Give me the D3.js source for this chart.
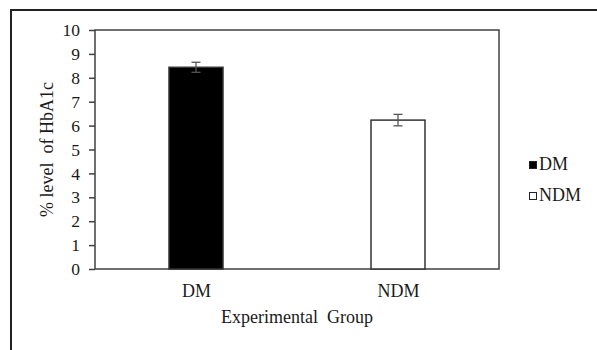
<!DOCTYPE html>
<html>
<head>
<meta charset="utf-8">
<script src="https://cdn.jsdelivr.net/npm/d3@7"></script>
<style>
  body { margin: 0; background: #fff; }
  text { font-family: "Liberation Serif", "Times New Roman", serif; fill: #1a1a1a; }
</style>
</head>
<body>
<div id="chart"></div>
<script>
// data
var groups = ["DM", "NDM"];
var means = [8.44, 6.23];
var errors = [0.21, 0.24];
var yTicks = [0, 1, 2, 3, 4, 5, 6, 7, 8, 9, 10];
var fills = ["#000000", "#ffffff"];

var W = 597, H = 350;
var m = {left: 95, right: 98, top: 30, bottom: 81};
var w = W - m.left - m.right;
var h = H - m.top - m.bottom;

var svg = d3.select("#chart")
  .append("svg")
  .attr("width", W)
  .attr("height", H)
  .attr("font-family", "Liberation Serif");

// outer frame (cut off on right and bottom)
svg.append("rect")
  .attr("x", 11).attr("y", 10)
  .attr("width", 700).attr("height", 500)
  .attr("fill", "none")
  .attr("stroke", "#222")
  .attr("stroke-width", 2);

var g = svg.append("g")
  .attr("transform", "translate(" + m.left + "," + m.top + ")");

var x = d3.scalePoint().domain(groups).range([0, w]).padding(0.5);
var y = d3.scaleLinear().domain([0, 10]).range([h, 0]);
var barW = 54;

// plot box
g.append("rect")
  .attr("width", w).attr("height", h)
  .attr("fill", "none")
  .attr("stroke", "#404040")
  .attr("stroke-width", 1.5);

// y axis
var yAxis = g.append("g")
  .call(d3.axisLeft(y).tickValues(yTicks).tickSize(6).tickPadding(9).tickFormat(d3.format("d")))
  .attr("font-family", null)
  .attr("font-size", null);
yAxis.select(".domain").remove();
yAxis.selectAll("line").attr("stroke", "#404040").attr("stroke-width", 1.5);
yAxis.selectAll("text")
  .style("font-size", "17.5px")
  .attr("fill", "#1a1a1a");

// x axis labels
var xAxis = g.append("g")
  .attr("transform", "translate(0," + h + ")")
  .call(d3.axisBottom(x).tickSize(0).tickPadding(15))
  .attr("font-family", null)
  .attr("font-size", null);
xAxis.select(".domain").remove();
xAxis.selectAll("text")
  .style("font-size", "18px")
  .attr("fill", "#1a1a1a");

// bars
g.selectAll(".bar")
  .data(groups)
  .enter()
  .append("rect")
  .attr("class", "bar")
  .attr("x", function(d) { return x(d) - barW / 2; })
  .attr("y", function(d, i) { return y(means[i]); })
  .attr("width", barW)
  .attr("height", function(d, i) { return h - y(means[i]); })
  .attr("fill", function(d, i) { return fills[i]; })
  .attr("stroke", "#333")
  .attr("stroke-width", 1.5);

// error bars
var eb = g.selectAll(".err")
  .data(groups)
  .enter()
  .append("g")
  .attr("class", "err")
  .attr("stroke", "#555")
  .attr("stroke-width", 1.3);
eb.append("line")
  .attr("x1", function(d) { return x(d); })
  .attr("x2", function(d) { return x(d); })
  .attr("y1", function(d, i) { return y(means[i] + errors[i]); })
  .attr("y2", function(d, i) { return y(means[i] - errors[i]); });
eb.append("line")
  .attr("x1", function(d) { return x(d) - 4.5; })
  .attr("x2", function(d) { return x(d) + 4.5; })
  .attr("y1", function(d, i) { return y(means[i] + errors[i]); })
  .attr("y2", function(d, i) { return y(means[i] + errors[i]); });
eb.append("line")
  .attr("x1", function(d) { return x(d) - 4.5; })
  .attr("x2", function(d) { return x(d) + 4.5; })
  .attr("y1", function(d, i) { return y(means[i] - errors[i]); })
  .attr("y2", function(d, i) { return y(means[i] - errors[i]); });

// axis titles
svg.append("text")
  .attr("x", 297).attr("y", 323)
  .attr("text-anchor", "middle")
  .style("font-size", "18px")
  .style("white-space", "pre")
  .text("Experimental  Group");

svg.append("text")
  .attr("transform", "translate(53," + (m.top + h / 2) + ") rotate(-90)")
  .attr("text-anchor", "middle")
  .style("font-size", "18px")
  .style("white-space", "pre")
  .text("% level  of HbA1c");

// legend
var legend = svg.append("g")
  .attr("transform", "translate(529,158)");
var li = legend.selectAll(".li")
  .data(groups)
  .enter()
  .append("g")
  .attr("class", "li")
  .attr("transform", function(d, i) { return "translate(0," + (i * 31) + ")"; });
li.append("rect")
  .attr("x", 0.5).attr("y", 3.5)
  .attr("width", 7).attr("height", 7)
  .attr("fill", function(d, i) { return fills[i]; })
  .attr("stroke", "#222")
  .attr("stroke-width", 1);
li.append("text")
  .attr("x", 10).attr("y", 11.5)
  .style("font-size", "18px")
  .text(function(d) { return d; });
</script>
</body>
</html>
